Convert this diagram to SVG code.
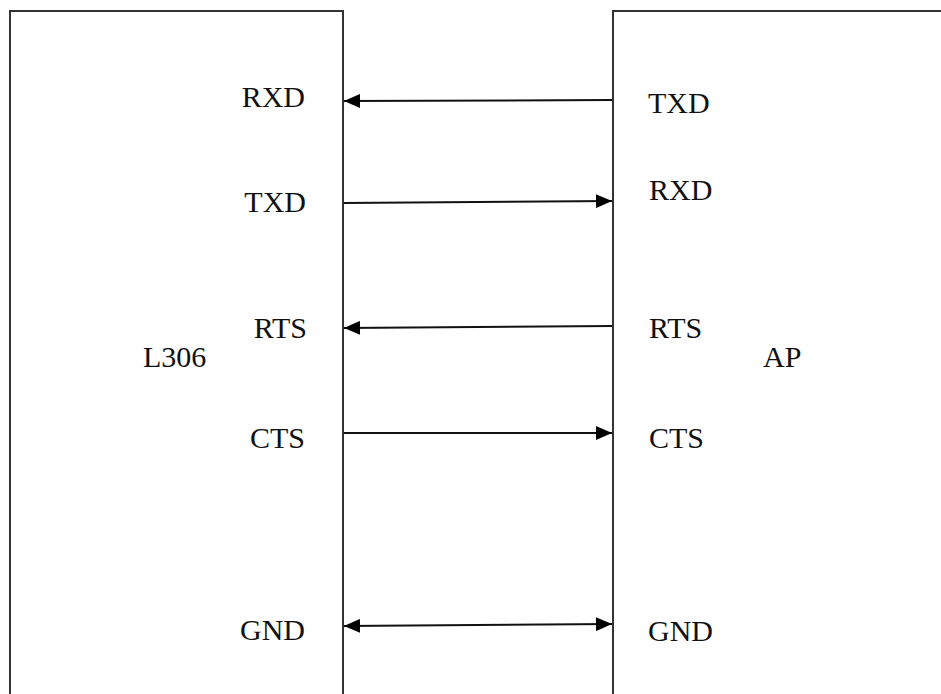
<svg xmlns="http://www.w3.org/2000/svg" width="941" height="694" viewBox="0 0 941 694">
<defs>
<style>
.box{fill:#fff;stroke:#333;stroke-width:2}
.lbl{font-family:"Liberation Serif","Times New Roman",serif;font-size:30px;fill:#111}
.l{text-anchor:end}
.wire{stroke:#111;stroke-width:2;fill:none}
</style>
<marker id="ah" viewBox="0 0 16 14" refX="16" refY="7" markerWidth="16" markerHeight="14" markerUnits="userSpaceOnUse" orient="auto-start-reverse">
<path d="M0,0 L16,7 L0,14 Z" fill="#000"/>
</marker>
</defs>
<rect width="941" height="694" fill="#fff"/>
<g id="L306">
<rect class="box" x="10" y="11" width="333" height="700"/>
<text class="lbl" x="143" y="367">L306</text>
<text class="lbl l" x="305" y="107">RXD</text>
<text class="lbl l" x="306" y="212">TXD</text>
<text class="lbl l" x="307" y="338">RTS</text>
<text class="lbl l" x="305" y="448">CTS</text>
<text class="lbl l" x="305" y="640">GND</text>
</g>
<g id="AP">
<rect class="box" x="613" y="11" width="340" height="700"/>
<text class="lbl" x="763" y="367">AP</text>
<text class="lbl" x="648" y="113">TXD</text>
<text class="lbl" x="649" y="200">RXD</text>
<text class="lbl" x="649" y="338">RTS</text>
<text class="lbl" x="649" y="448">CTS</text>
<text class="lbl" x="648" y="641">GND</text>
</g>
<g id="connectors">
<line class="wire" x1="612" y1="100" x2="344" y2="101" marker-end="url(#ah)"/>
<line class="wire" x1="344" y1="203" x2="612" y2="201" marker-end="url(#ah)"/>
<line class="wire" x1="612" y1="326" x2="344" y2="328" marker-end="url(#ah)"/>
<line class="wire" x1="344" y1="433" x2="612" y2="433" marker-end="url(#ah)"/>
<line class="wire" x1="344" y1="626" x2="612" y2="624" marker-start="url(#ah)" marker-end="url(#ah)"/>
</g>
</svg>
